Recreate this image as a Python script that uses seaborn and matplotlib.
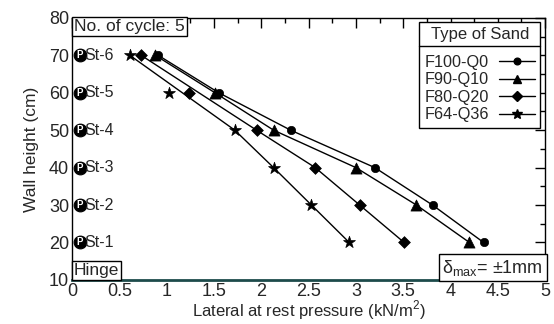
import numpy as np
import pandas as pd
import matplotlib
matplotlib.use("Agg")
import matplotlib.pyplot as plt
from matplotlib.lines import Line2D
from matplotlib.ticker import MultipleLocator
import seaborn as sns

sns.set_theme(style="white")
plt.rcParams['font.family'] = ['Liberation Sans', 'DejaVu Sans']
plt.rcParams['mathtext.fontset'] = 'custom'
plt.rcParams['mathtext.rm'] = 'Liberation Sans'

heights = [20, 30, 40, 50, 60, 70]
x_f100 = [4.35, 3.81, 3.20, 2.31, 1.55, 0.91]
x_f90 = [4.20, 3.64, 3.00, 2.13, 1.51, 0.88]
x_f80 = [3.51, 3.04, 2.57, 1.95, 1.24, 0.73]
x_f64 = [2.93, 2.53, 2.13, 1.72, 1.03, 0.61]
series_names = ["F100-Q0", "F90-Q10", "F80-Q20", "F64-Q36"]
series_x = [x_f100, x_f90, x_f80, x_f64]
markers = ["o", "^", "D", "*"]
marker_sizes = [6, 8, 6, 9]
# heights of points that lie off the drawn trend line
off_line = [[], [], [60], [60]]
stations = ["St-1", "St-2", "St-3", "St-4", "St-5", "St-6"]

fig = plt.figure(figsize=(5.54, 3.24), dpi=100)
ax = fig.add_axes([0.130, 0.136, 0.854, 0.809])

for name, xs, m, ms, skip in zip(series_names, series_x, markers, marker_sizes, off_line):
    df = pd.DataFrame({"x": xs, "h": heights})
    line_df = df[~df["h"].isin(skip)]
    sns.lineplot(data=line_df, x="x", y="h", sort=False, estimator=None,
                 color="black", lw=1.0, ax=ax)
    sns.scatterplot(data=df, x="x", y="h", marker=m, s=ms ** 2, color="black",
                    edgecolor="black", linewidth=0.5, ax=ax, zorder=4)

# station markers
st_df = pd.DataFrame({"x": [0.08] * len(stations), "h": heights})
sns.scatterplot(data=st_df, x="x", y="h", s=85, color="black", edgecolor="black",
                ax=ax, zorder=5, clip_on=False)
for h, st in zip(heights, stations):
    ax.text(0.08, h, "P", color="white", fontsize=7, fontweight="bold",
            ha="center", va="center", zorder=6)
    ax.text(0.13, h, st, fontsize=11.5, ha="left", va="center", zorder=6)

ax.set_xlim(0, 5)
ax.set_ylim(10, 80)
ax.xaxis.set_major_locator(MultipleLocator(0.5))
ax.xaxis.set_minor_locator(MultipleLocator(0.25))
ax.yaxis.set_major_locator(MultipleLocator(10))
ax.yaxis.set_minor_locator(MultipleLocator(5))
ax.set_xticks(np.arange(0, 5.01, 0.5))
ax.set_xticklabels(["0", "0.5", "1", "1.5", "2", "2.5", "3", "3.5", "4", "4.5", "5"])
ax.tick_params(which="both", direction="in", top=True, right=True, color="black",
               labelsize=13, pad=2)
ax.tick_params(which="major", length=7, width=1)
ax.tick_params(which="minor", length=3.5, width=1)
for sp in ax.spines.values():
    sp.set_color("black")
    sp.set_linewidth(1.0)
ax.spines["bottom"].set_color("#1d4b4b")
ax.spines["bottom"].set_linewidth(2.0)

ax.set_xlabel("Lateral at rest pressure (kN/m$^2$)", fontsize=12, labelpad=-1)
ax.set_ylabel("Wall height (cm)", fontsize=12.5, labelpad=7)

box = dict(boxstyle="square,pad=0.12", fc="white", ec="black", lw=1)
ax.text(0.004, 0.994, "No. of cycle: 5", transform=ax.transAxes, fontsize=12.5,
        ha="left", va="top", bbox=box, zorder=7)
ax.text(0.004, 0.006, "Hinge", transform=ax.transAxes, fontsize=12.5,
        ha="left", va="bottom", bbox=box, zorder=7)
ax.text(0.996, 0.008, "$\\mathregular{δ_{max}}$= ±1mm", transform=ax.transAxes,
        fontsize=13, ha="right", va="bottom",
        bbox=dict(boxstyle="square,pad=0.2", fc="white", ec="black", lw=1), zorder=7)

handles = [Line2D([0], [0], color="black", lw=1, marker=m, markersize=ms * 0.8)
           for m, ms in zip(markers, marker_sizes)]
leg = ax.legend(handles, series_names, title="Type of Sand", loc="upper right",
                bbox_to_anchor=(0.99, 0.985), borderaxespad=0, fontsize=11.7,
                title_fontsize=12, markerfirst=False, handlelength=2.2,
                handletextpad=0.6, labelspacing=0.15, borderpad=0.35,
                fancybox=False, framealpha=1, edgecolor="black")
leg.get_frame().set_linewidth(1)
leg.set_zorder(8)
leg._legend_box.sep = 9

fig.canvas.draw()
tb = leg.get_title().get_window_extent()
fb = leg.get_frame().get_window_extent()
inv = fig.transFigure.inverted()
ypix = tb.y0 - 4
(x0f, yf), (x1f, _) = inv.transform([(fb.x0, ypix), (fb.x1, ypix)])
fig.add_artist(Line2D([x0f, x1f], [yf, yf], color="black", lw=1, zorder=10))

fig.savefig("out.png", dpi=100)
